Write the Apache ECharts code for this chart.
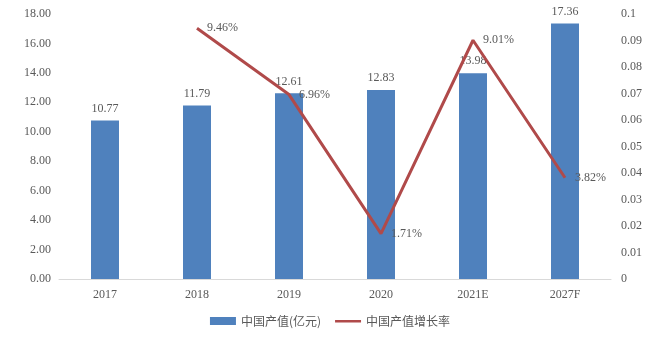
<!DOCTYPE html>
<html><head><meta charset="utf-8">
<script src="https://cdn.jsdelivr.net/npm/echarts@6/dist/echarts.min.js"></script>
<style>html,body{margin:0;padding:0;background:#fff}#c{width:660px;height:344px}</style>
</head><body><div id="c"></div>
<script>
var categories = ['2017','2018','2019','2020','2021E','2027F'];
var outputValues = [10.77, 11.79, 12.61, 12.83, 13.98, 17.36];
var growthRates = [null, 0.0946, 0.0696, 0.0171, 0.0901, 0.0382];
var leftTicks = {min: 0, max: 18, interval: 2};
var rightTicks = {min: 0, max: 0.1, interval: 0.01};

var txt = '#595959';
var serif = '"Liberation Serif", "DejaVu Serif", serif';
var chart = echarts.init(document.getElementById('c'));
chart.setOption({
  animation: false,
  grid: {left: 59, right: 49, top: 14, bottom: 65},
  legend: {
    bottom: 12, left: 'center', itemGap: 14,
    textStyle: {color: txt, fontSize: 12, fontFamily: '"Noto Sans CJK SC", sans-serif'},
    data: [
      {name: '中国产值(亿元)', icon: 'rect', itemStyle: {color: '#4F81BD'}},
      {name: '中国产值增长率', icon: 'path://M0,0h0.01v0.01H0z M0,3h26v2.5H0z M25.99,8h0.01v0.01h-0.01z', itemStyle: {color: '#B04A4A'}}
    ],
    itemWidth: 26, itemHeight: 8
  },
  xAxis: {
    type: 'category', data: categories,
    axisLine: {lineStyle: {color: '#D9D9D9'}},
    axisTick: {show: false},
    axisLabel: {color: txt, fontSize: 12, fontFamily: serif, margin: 10}
  },
  yAxis: [{
    type: 'value', min: leftTicks.min, max: leftTicks.max, interval: leftTicks.interval,
    splitLine: {show: false},
    axisLine: {show: false}, axisTick: {show: false},
    axisLabel: {color: txt, fontSize: 12, fontFamily: serif, margin: 8,
      formatter: function(v){return v.toFixed(2);}}
  },{
    type: 'value', min: rightTicks.min, max: rightTicks.max, interval: rightTicks.interval,
    splitLine: {show: false},
    axisLine: {show: false}, axisTick: {show: false},
    axisLabel: {color: txt, fontSize: 12, fontFamily: serif, margin: 10,
      formatter: function(v){return v === 0 ? '0' : String(+v.toFixed(2));}}
  }],
  series: [{
    name: '中国产值(亿元)', type: 'bar', data: outputValues, barWidth: 28,
    itemStyle: {color: '#4F81BD'},
    label: {show: true, position: 'top', color: txt, fontSize: 12, fontFamily: serif,
      distance: 6, formatter: function(p){return p.value.toFixed(2);}}
  },{
    name: '中国产值增长率', type: 'line', yAxisIndex: 1, data: growthRates,
    showSymbol: true, symbol: 'circle', symbolSize: 0,
    lineStyle: {color: '#B04A4A', width: 3},
    itemStyle: {color: '#B04A4A'},
    label: {show: true, position: 'right', color: txt, fontSize: 12, fontFamily: serif,
      distance: 10, formatter: function(p){return (p.value*100).toFixed(2) + '%';}}
  }]
});
</script></body></html>
